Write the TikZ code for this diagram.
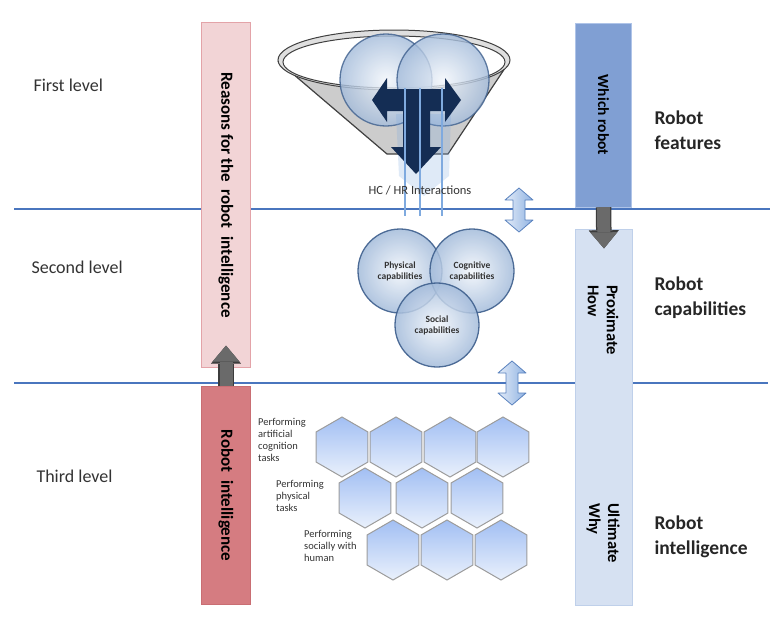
\documentclass[tikz,border=0pt]{standalone}
\usepackage{fontspec}
\setmainfont{Carlito}
\usepackage{xcolor}
\usepackage{tikz}
\usetikzlibrary{arrows.meta}
\usetikzlibrary{shapes.geometric}

\definecolor{levelblue}{HTML}{4A76BE}
\definecolor{pinkfill}{HTML}{F2D4D6}
\definecolor{pinkedge}{HTML}{E3A3A8}
\definecolor{redfill}{HTML}{D57C81}
\definecolor{rededge}{HTML}{C96E73}
\definecolor{whichfill}{HTML}{809FD3}
\definecolor{whichedge}{HTML}{AFC4E8}
\definecolor{mechfill}{HTML}{D6E1F2}
\definecolor{mechedge}{HTML}{BFD0EA}
\definecolor{arrowgray}{HTML}{6A6A6A}
\definecolor{arrowedge}{HTML}{3C3C3C}
\definecolor{navy}{HTML}{142D54}
\definecolor{sphline}{HTML}{3E5F8D}
\definecolor{sphin}{HTML}{F2F6FB}
\definecolor{sphout}{HTML}{A3BBDA}
\definecolor{hextop}{HTML}{A2BFF3}
\definecolor{hexbot}{HTML}{EAF1FC}
\definecolor{hexedge}{HTML}{9C9C9C}
\definecolor{txtgray}{HTML}{333333}
\definecolor{glowblue}{HTML}{7FAADF}
\definecolor{updownedge}{HTML}{5A82BE}
\definecolor{updownfill}{HTML}{8FB2E2}

\begin{document}
\begin{tikzpicture}[x=1pt, y=-1pt,
level/.style={levelblue, line width=2.5pt},
column/.style={rotate=-90, inner sep=0pt, font=\fontsize{17}{20}\selectfont\bfseries},
blockarrow/.style={line width=13pt, draw=arrowgray,
    -{Triangle[width=27pt,length=16pt,line width=0.1pt]},
    preaction={draw=arrowedge, line width=15.5pt, -{Triangle[width=30pt,length=18pt,line width=0.1pt]}}},
levellabel/.style={anchor=west, text=txtgray, font=\fontsize{18}{22}\selectfont},
sidelabel/.style={anchor=west, align=left, text=black!85, font=\fontsize{19.5}{25}\selectfont\bfseries},
sphere/.style={draw=sphline, line width=1.3pt, shading=radial, inner color=sphin, outer color=sphout, opacity=0.8},
capcircle/.style={circle, minimum size=84pt, inner sep=0pt, align=center, draw=sphline, line width=1.3pt,
    shading=radial, inner color=sphin, outer color=sphout, fill opacity=0.85, draw opacity=0.9, text opacity=1,
    font=\fontsize{9.5}{11}\selectfont\bfseries, text=black!80},
hexcell/.style={regular polygon, regular polygon sides=6, shape border rotate=90, minimum size=60pt, inner sep=0pt,
    draw=hexedge, line width=1pt, top color=hextop, bottom color=hexbot},
tasklabel/.style={anchor=north west, align=left, inner sep=0pt, text=txtgray, font=\fontsize{10.5}{12}\selectfont},
updown/.style={draw=updownedge, line width=0.8pt, line join=round,
    left color=white!75!updownfill, right color=updownfill}]

\useasboundingbox (0,0) rectangle (774,619);

% LEVEL LINES
\draw[level] (14,209) -- (770,209);
\draw[level] (14,383) -- (768,383);

% level names
\node[levellabel] (first) at (30,85) {First level};
\node[levellabel] (second) at (28,267) {Second level};
\node[levellabel] (third) at (33,476) {Third level};

% left columns
\node[column, fill=pinkfill, draw=pinkedge, minimum width=345pt, minimum height=49pt] (reasons) at (226,195) {Reasons for the~ robot~ intelligence};
\node[column, fill=redfill, draw=rededge, minimum width=218pt, minimum height=49pt] (intel) at (226,495.5) {Robot~ intelligence};
\draw[blockarrow] (intel.west) -- ([yshift=22pt]reasons.east);

% right columns
\node[column, fill=whichfill, draw=whichedge, minimum width=184pt, minimum height=56pt, font=\fontsize{15.5}{20}\selectfont\bfseries] (which) at (603.5,115) {Which robot};
\node[column, fill=mechfill, draw=mechedge, minimum width=376pt, minimum height=57pt] (mech) at (604,417.5) {};
\node[column, anchor=west, align=left, font=\fontsize{16.5}{19}\selectfont\bfseries] (prox) at (603,285) {Proximate\\How};
\node[column, anchor=west, align=left, font=\fontsize{16.5}{19}\selectfont\bfseries] (ult) at (603,503) {Ultimate\\Why};
\draw[blockarrow] (which.east) -- ([yshift=-19pt]mech.west);

% side names
\node[sidelabel] (feat) at (651,130) {Robot\\features};
\node[sidelabel] (capab) at (651,298) {Robot\\capabilities};
\node[sidelabel] (intname) at (651,537) {Robot\\intelligence};

% funnel
\fill[gray!40, draw=black!75, line width=1.2pt] (279,62) -- (387,154) -- (448,154) -- (509,62) -- cycle;
\draw[black!75, fill=gray!25, line width=1pt] (394,60) ellipse (116 and 30);
\draw[black!75, fill=white, line width=1pt] (394,62) ellipse (111 and 26);

% spheres in the funnel
\shade[sphere] (386,80) circle (46);
\shade[sphere] (443,80) circle (46);

% glow and interaction arrow
\fill[glowblue, opacity=0.25] (396,114) -- (451,114) -- (449,176) -- (424,196) -- (399,176) -- cycle;
\fill[navy] (372,100) -- (387,78) -- (387,89) -- (445,89) -- (445,78) -- (461,100) -- (445,122) -- (445,111)
  -- (430,111) -- (430,147) -- (441,147) -- (416,174) -- (391,147) -- (403,147) -- (403,111)
  -- (387,111) -- (387,122) -- cycle;
\foreach \x in {405,420,442}{
    \draw[glowblue, line width=1.3pt] (\x,88) -- (\x,216);
}
\node[text=txtgray, font=\fontsize{12.5}{14}\selectfont] (hchr) at (420,190) {HC / HR Interactions};

% level changes (up/down arrows)
\foreach \cx/\cy in {519/210, 512/383}{
    \shade[updown] (\cx,\cy) ++(0,-22) -- ++(14,12) -- ++(-8,0) -- ++(0,20) -- ++(8,0) -- ++(-14,12)
      -- ++(-14,-12) -- ++(8,0) -- ++(0,-20) -- ++(-8,0) -- cycle;
}

% capabilities
\node[capcircle] (phys) at (400,271) {Physical\\capabilities};
\node[capcircle] (cogn) at (472,271) {Cognitive\\capabilities};
\node[capcircle] (soc) at (437,325) {Social\\capabilities};

% task cells
\foreach \x [count=\i] in {342,396,450,503}{
    \node[hexcell] (cellA\i) at (\x,447) {};
}
\foreach \x [count=\i] in {365,422,477}{
    \node[hexcell] (cellB\i) at (\x,498) {};
}
\foreach \x [count=\i] in {393,447,501}{
    \node[hexcell] (cellC\i) at (\x,550) {};
}
\node[tasklabel] (cogtask) at (258,418) {Performing\\artificial\\cognition\\tasks};
\node[tasklabel] (phystask) at (276,480) {Performing\\physical\\tasks};
\node[tasklabel] (soctask) at (304,530) {Performing\\socially with\\human};

\end{tikzpicture}
\end{document}
